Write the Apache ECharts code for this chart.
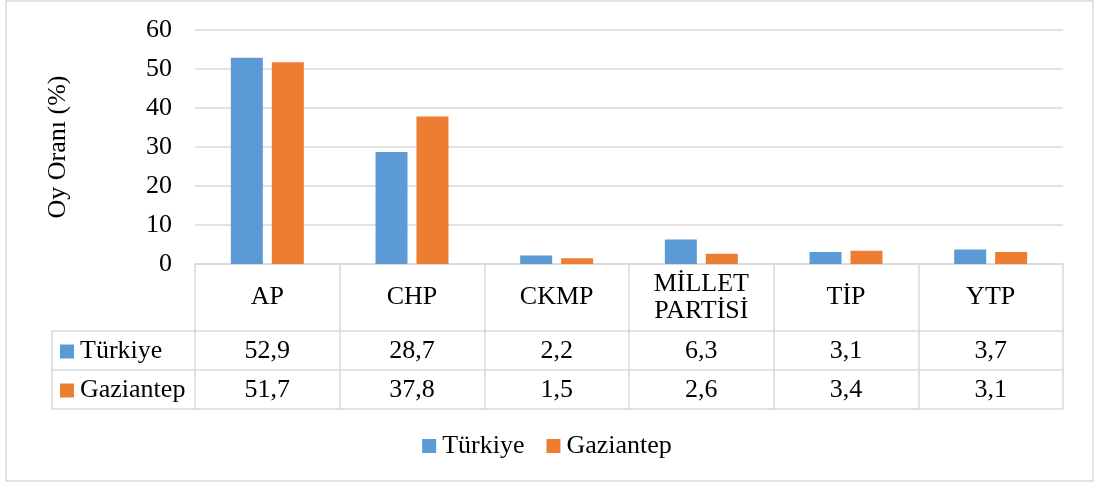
<!DOCTYPE html>
<html>
<head>
<meta charset="utf-8">
<script src="https://cdn.jsdelivr.net/npm/echarts@6/dist/echarts.min.js"></script>
<style>
  html, body { margin: 0; padding: 0; background: #fff; }
  #chart { width: 1094px; height: 483px; }
</style>
</head>
<body>
<div id="chart"></div>
<script>
// veriler
const partiler = ['AP', 'CHP', 'CKMP', 'MİLLET\nPARTİSİ', 'TİP', 'YTP'];
const turkiye = [52.9, 28.7, 2.2, 6.3, 3.1, 3.7];
const gaziantep = [51.7, 37.8, 1.5, 2.6, 3.4, 3.1];
const yTicks = [0, 10, 20, 30, 40, 50, 60];

const FONT = "'Times New Roman', 'Liberation Serif', serif";
const FS = 26;
const GRID = '#d9d9d9';
const fmt = v => v.toFixed(1).replace('.', ',');

let myChart = echarts.init(document.getElementById('chart'));

// tablo satirlari icin ek x eksenleri
function tableAxis(offset, values) {
  return {
    type: 'category',
    position: 'bottom',
    offset: offset,
    data: values ? values.map(fmt) : partiler.map(() => ''),
    axisLine: { show: true, lineStyle: { color: GRID, width: 1.5 } },
    axisTick: { show: false },
    axisLabel: {
      show: !!values,
      interval: 0,
      margin: 20,
      verticalAlign: 'middle',
      fontFamily: FONT,
      fontSize: FS,
      color: '#000'
    }
  };
}

const legendText = { fontFamily: FONT, fontSize: FS, color: '#000', lineHeight: 24, padding: [2, 0, 0, 1] };

// sol sutundaki seri adlari
function rowLegend(name, centerY) {
  return {
    data: [name],
    orient: 'vertical',
    left: 60,
    top: centerY - 12,
    padding: 0,
    itemWidth: 14,
    itemHeight: 14,
    selectedMode: false,
    icon: 'rect',
    textStyle: legendText
  };
}

let option = {
  animation: false,
  color: ['#5b9bd5', '#ed7d31'],
  grid: { left: 195, right: 31, top: 30, bottom: 219 },
  legend: [
    rowLegend('Türkiye', 350.5),
    rowLegend('Gaziantep', 389.5),
    {
      data: ['Türkiye', 'Gaziantep'],
      left: 'center',
      top: 433,
      padding: 0,
      itemWidth: 14,
      itemHeight: 14,
      itemGap: 22,
      selectedMode: false,
      icon: 'rect',
      textStyle: legendText
    }
  ],
  xAxis: [
    {
      type: 'category',
      data: partiler,
      axisLine: { show: true, lineStyle: { color: GRID, width: 1.5 } },
      axisTick: { show: true, length: 145, interval: 0, lineStyle: { color: GRID, width: 1.5 } },
      axisLabel: {
        interval: 0,
        margin: 33.5,
        verticalAlign: 'middle',
        lineHeight: 27,
        fontFamily: FONT,
        fontSize: FS,
        color: '#000'
      }
    },
    tableAxis(67, turkiye),
    tableAxis(106, gaziantep),
    tableAxis(145, null)
  ],
  yAxis: {
    type: 'value',
    min: 0,
    max: 60,
    interval: 10,
    name: 'Oy Oranı (%)',
    nameLocation: 'middle',
    nameGap: 124,
    nameTextStyle: { fontFamily: FONT, fontSize: FS, color: '#000' },
    axisLine: { show: false },
    axisTick: { show: false },
    axisLabel: {
      margin: 23,
      fontFamily: FONT,
      fontSize: FS,
      color: '#000',
      formatter: v => yTicks.includes(v) ? String(v) : ''
    },
    splitLine: { lineStyle: { color: GRID, width: 1.5 } }
  },
  graphic: [
    {
      type: 'rect',
      silent: true,
      shape: { x: 6, y: 1, width: 1087, height: 480 },
      style: { fill: 'none', stroke: GRID, lineWidth: 1.5 }
    },
    {
      type: 'polyline',
      silent: true,
      shape: { points: [[195, 331], [52, 331], [52, 409], [195, 409]] },
      style: { fill: 'none', stroke: GRID, lineWidth: 1.5 }
    },
    {
      type: 'line',
      silent: true,
      shape: { x1: 52, y1: 370, x2: 195, y2: 370 },
      style: { stroke: GRID, lineWidth: 1.5 }
    }
  ],
  series: [
    { name: 'Türkiye', type: 'bar', data: turkiye, barWidth: 32, barGap: '28%' },
    { name: 'Gaziantep', type: 'bar', data: gaziantep, barWidth: 32 }
  ]
};

myChart.setOption(option);
</script>
</body>
</html>
